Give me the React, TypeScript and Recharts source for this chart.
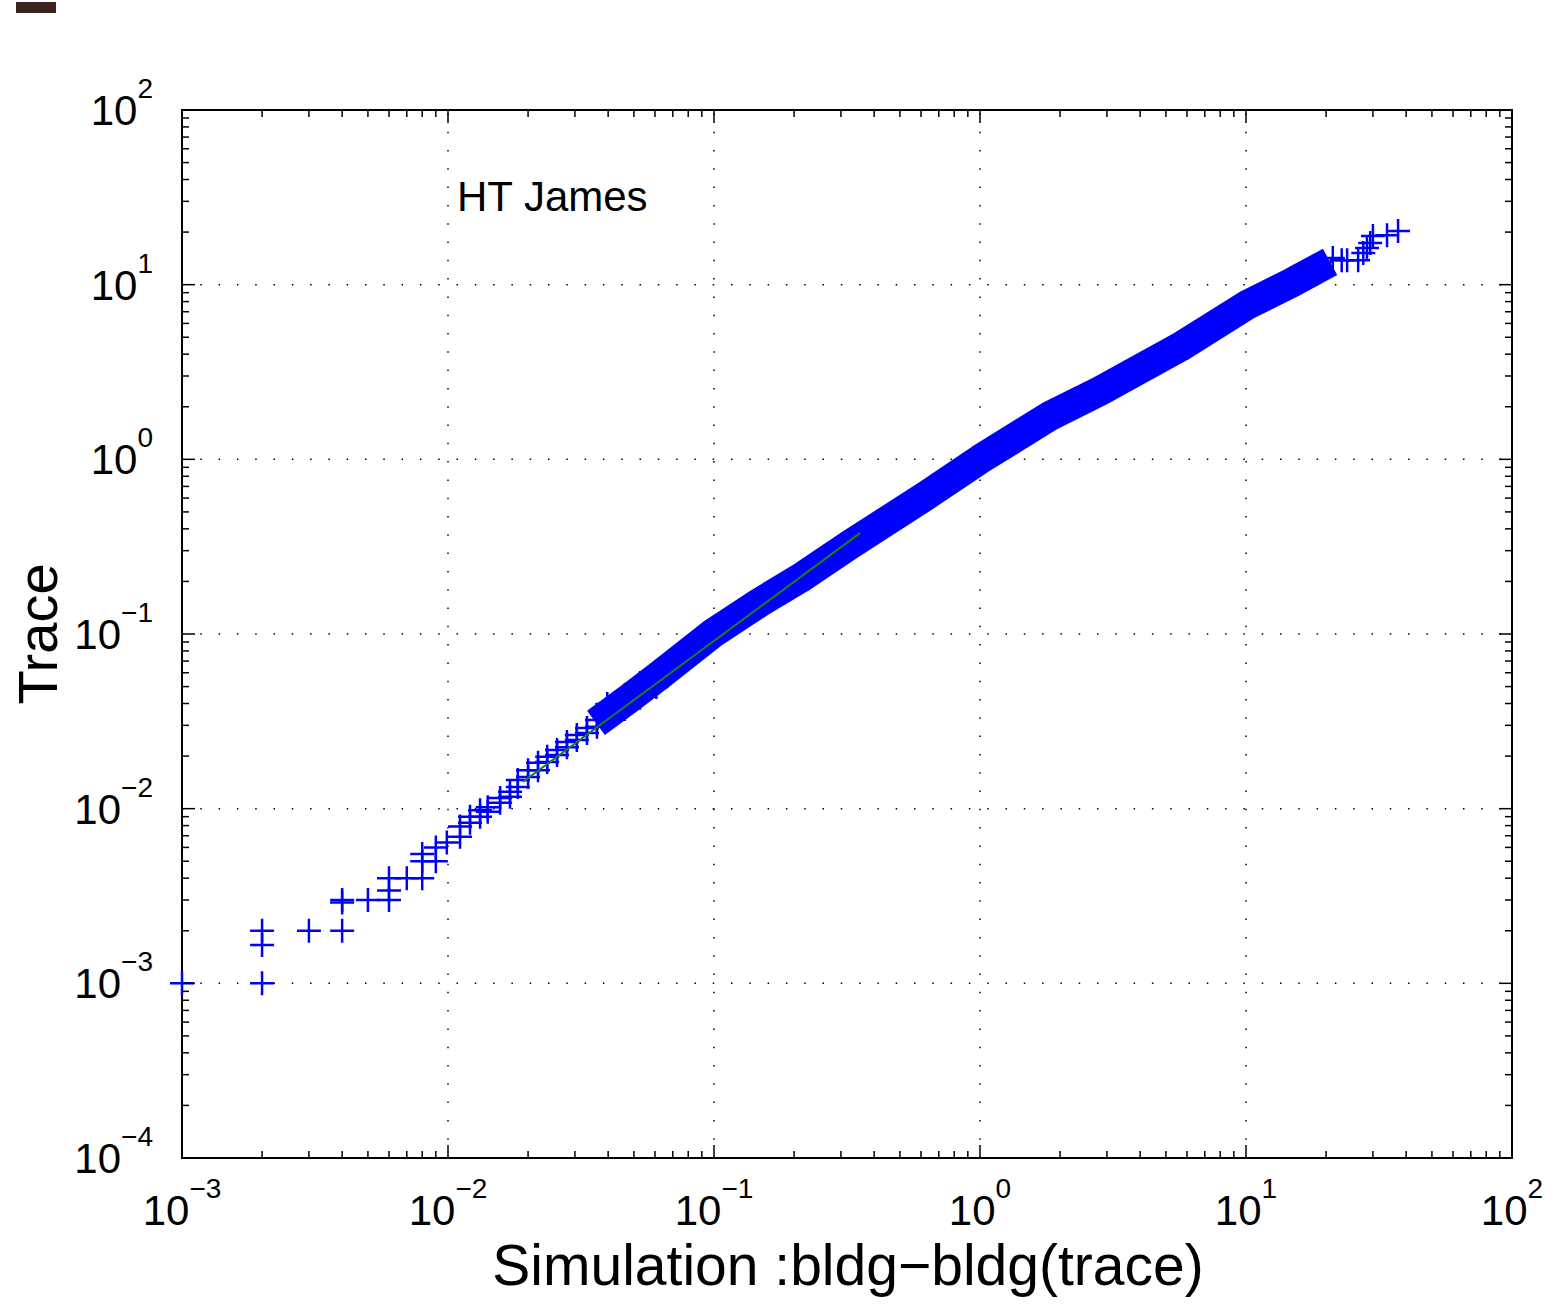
import { ScatterChart, Scatter, XAxis, YAxis, ReferenceLine, ReferenceArea } from "recharts";

const FONT = '"Liberation Sans", Arial, Helvetica, sans-serif';

const W = 1558;
const H = 1306;
const PLOT_LEFT = 182;
const PLOT_TOP = 110;
const PLOT_RIGHT = 1512;
const PLOT_BOTTOM = 1158;

// decades on each axis
const xDecades = [0.001, 0.01, 0.1, 1, 10, 100];
const yDecades = [0.0001, 0.001, 0.01, 0.1, 1, 10, 100];
const minorSteps = [2, 3, 4, 5, 6, 7, 8, 9];

// sparse "+" points, lower-left staircase
const lowSim = [
  0.001, 0.002, 0.002, 0.002, 0.003, 0.004, 0.004, 0.004, 0.005, 0.006, 0.006, 0.006,
  0.007, 0.008, 0.008, 0.008, 0.009, 0.009, 0.0099, 0.0111, 0.0111, 0.0121, 0.0121,
  0.0132, 0.0132, 0.0141, 0.0141, 0.0157, 0.0157, 0.0171, 0.0171, 0.0183, 0.0183,
  0.02, 0.02, 0.0218, 0.0218, 0.0236, 0.0236, 0.0257, 0.0257, 0.028, 0.028, 0.0305,
  0.0305, 0.0333, 0.0333, 0.0363, 0.0363, 0.0397, 0.0397, 0.0462, 0.0462, 0.0527,
  0.0527, 0.0607, 0.0607,
];
const lowTrace = [
  0.001, 0.001, 0.00166, 0.002, 0.002, 0.002, 0.0029, 0.003, 0.003, 0.003, 0.0034, 0.004,
  0.004, 0.004, 0.005, 0.0055, 0.005, 0.006, 0.0064, 0.0069, 0.0079, 0.0083, 0.009,
  0.009, 0.0098, 0.0096, 0.0102, 0.0108, 0.0115, 0.0117, 0.0125, 0.0133, 0.0146,
  0.0152, 0.0166, 0.0166, 0.0183, 0.0185, 0.0198, 0.0203, 0.0217, 0.0225, 0.0241, 0.0247,
  0.0264, 0.0271, 0.029, 0.0294, 0.0322, 0.033, 0.0397, 0.0372, 0.0448, 0.0431,
  0.0525, 0.0498, 0.0607,
];

// dense band centre (drawn as a thick stroke of overlapping markers)
const bandSim = [0.036, 0.0483, 0.0626, 0.099, 0.149, 0.21, 0.324, 0.632, 1.0, 1.83, 2.82, 5.65, 10.1, 15.0, 20.7];
const bandTrace = [0.031, 0.0431, 0.0582, 0.101, 0.152, 0.208, 0.324, 0.625, 1.0, 1.77, 2.46, 4.4, 7.66, 10.35, 13.5];

// sparse "+" points, upper-right tail
const highSim = [19.3, 21.2, 22.9, 24.0, 26.4, 27.6, 28.5, 29.3, 30.0, 33.9, 37.3];
const highTrace = [13.5, 14.2, 13.8, 13.8, 13.8, 15.2, 16.2, 17.3, 19.0, 19.2, 20.3];

// fitted line
const fitSim = [0.0191, 0.354];
const fitTrace = [0.0142, 0.378];

const zip = (xs: number[], ys: number[]) => xs.map((x, i) => ({ x, y: ys[i] }));
const lowPoints = zip(lowSim, lowTrace);
const bandPoints = zip(bandSim, bandTrace);
const highPoints = zip(highSim, highTrace);
const fitPoints = zip(fitSim, fitTrace);

const withMinors = (decades: number[]) => [
  ...decades,
  ...decades.slice(0, -1).flatMap((d) => minorSteps.map((m) => d * m)),
];
const xTicks = withMinors(xDecades);
const yTicks = withMinors(yDecades);

const isDecade = (v: number) => Math.abs(Math.log10(v) - Math.round(Math.log10(v))) < 1e-6;
const expText = (v: number) => {
  const e = Math.round(Math.log10(v));
  return e < 0 ? `\u2212${-e}` : `${e}`;
};

function XTick(props: any) {
  const { x, payload } = props;
  const v = payload.value;
  const major = isDecade(v);
  const len = major ? 13 : 7;
  return (
    <g>
      <line x1={x} x2={x} y1={PLOT_BOTTOM} y2={PLOT_BOTTOM - len} stroke="#000" strokeWidth={1.5} />
      <line x1={x} x2={x} y1={PLOT_TOP} y2={PLOT_TOP + len} stroke="#000" strokeWidth={1.5} />
      {major && (
        <text x={x} y={1225} textAnchor="middle" fontFamily={FONT} fontSize={42} fill="#000">
          10
          <tspan dy={-27} fontSize={28}>
            {expText(v)}
          </tspan>
        </text>
      )}
    </g>
  );
}

function YTick(props: any) {
  const { y, payload } = props;
  const v = payload.value;
  const major = isDecade(v);
  const len = major ? 13 : 7;
  return (
    <g>
      <line x1={PLOT_LEFT} x2={PLOT_LEFT + len} y1={y} y2={y} stroke="#000" strokeWidth={1.5} />
      <line x1={PLOT_RIGHT} x2={PLOT_RIGHT - len} y1={y} y2={y} stroke="#000" strokeWidth={1.5} />
      {major && (
        <text x={153} y={y + 15} textAnchor="end" fontFamily={FONT} fontSize={42} fill="#000">
          10
          <tspan dy={-27} fontSize={28}>
            {expText(v)}
          </tspan>
        </text>
      )}
    </g>
  );
}

const PlusMarker = (props: any) => {
  const { cx, cy } = props;
  if (cx == null || cy == null) return <g />;
  return (
    <path
      d={`M${cx - 12},${cy}H${cx + 12}M${cx},${cy - 12}V${cy + 12}`}
      stroke="#0000ff"
      strokeWidth={2.5}
      fill="none"
    />
  );
};

const NoMarker = () => <g />;

export default function App() {
  return (
    <div style={{ position: "absolute", left: 0, top: 0, width: W, height: H, background: "#fff" }}>
      <div style={{ position: "absolute", left: 16, top: 2, width: 40, height: 11, background: "#3d2222" }} />
      <ScatterChart width={W} height={H} margin={{ top: PLOT_TOP, right: W - PLOT_RIGHT, bottom: 48, left: 82 }}>
        <XAxis
          type="number"
          dataKey="x"
          scale="log"
          domain={[0.001, 100]}
          ticks={xTicks}
          interval={0}
          tick={XTick}
          tickLine={false}
          axisLine={false}
          tickSize={0}
          tickMargin={0}
          height={100}
        />
        <YAxis
          type="number"
          dataKey="y"
          scale="log"
          domain={[0.0001, 100]}
          ticks={yTicks}
          interval={0}
          tick={YTick}
          tickLine={false}
          axisLine={false}
          tickSize={0}
          tickMargin={0}
          width={100}
        />
        {xDecades.slice(1, -1).map((v) => (
          <ReferenceLine key={`gx${v}`} x={v} stroke="#000" strokeWidth={1.5} strokeDasharray="1.5 16.8" />
        ))}
        {yDecades.slice(1, -1).map((v) => (
          <ReferenceLine key={`gy${v}`} y={v} stroke="#000" strokeWidth={1.5} strokeDasharray="1.5 16.8" />
        ))}
        <ReferenceArea x1={0.001} x2={100} y1={0.0001} y2={100} fill="none" fillOpacity={0} stroke="#000" strokeWidth={2} />
        <Scatter
          data={bandPoints}
          fill="#0000ff"
          line={{ stroke: "#0000ff", strokeWidth: 30, strokeLinejoin: "round" }}
          lineType="joint"
          shape={NoMarker}
          isAnimationActive={false}
        />
        <Scatter data={lowPoints} fill="#0000ff" shape={PlusMarker} isAnimationActive={false} />
        <Scatter data={highPoints} fill="#0000ff" shape={PlusMarker} isAnimationActive={false} />
        <Scatter
          data={fitPoints}
          fill="#1e7b1e"
          line={{ stroke: "#1e7b1e", strokeWidth: 2 }}
          lineType="joint"
          shape={NoMarker}
          isAnimationActive={false}
        />
      </ScatterChart>
      <svg
        width={W}
        height={H}
        style={{ position: "absolute", left: 0, top: 0, pointerEvents: "none" }}
      >
        <text x={457} y={211} fontFamily={FONT} fontSize={42} fill="#000">
          HT James
        </text>
        <text x={848} y={1285} textAnchor="middle" fontFamily={FONT} fontSize={57} fill="#000">
          Simulation :bldg{"\u2212"}bldg(trace)
        </text>
        <text
          x={57}
          y={634}
          textAnchor="middle"
          fontFamily={FONT}
          fontSize={56}
          fill="#000"
          transform="rotate(-90 57 634)"
        >
          Trace
        </text>
      </svg>
    </div>
  );
}
